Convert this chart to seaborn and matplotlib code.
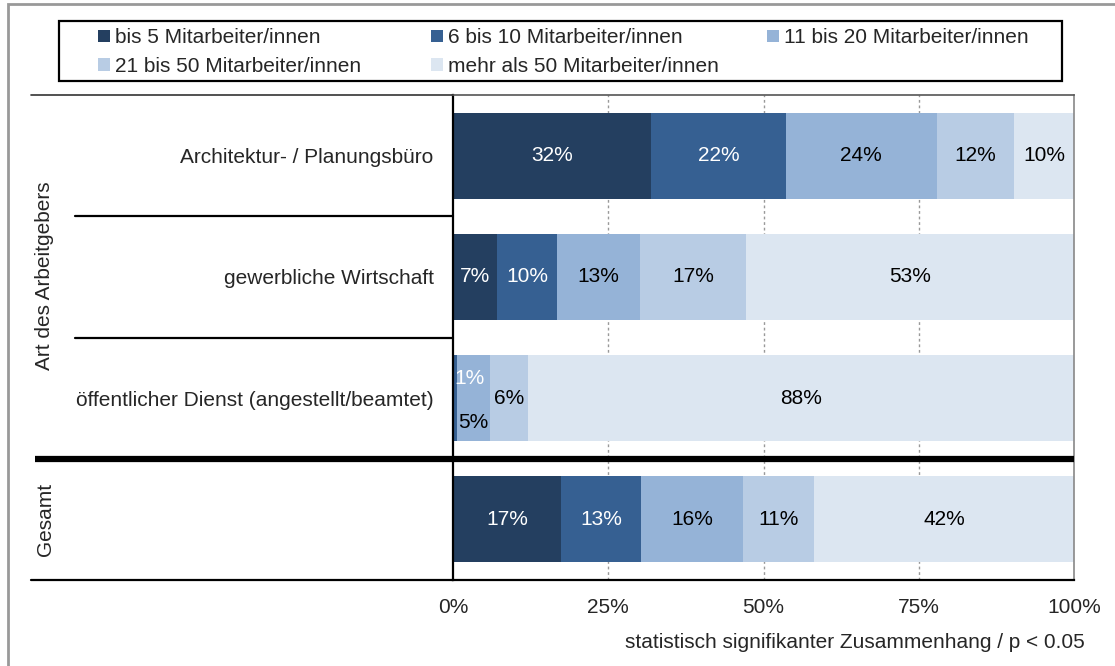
import matplotlib as mpl
import matplotlib.pyplot as plt
from matplotlib.patches import Patch, Rectangle
import seaborn as sns
import pandas as pd

# ---------------- Daten ----------------
arbeitgeber = ["Architektur- / Planungsbüro", "gewerbliche Wirtschaft",
               "öffentlicher Dienst (angestellt/beamtet)", "Gesamt"]
groessen = ["bis 5 Mitarbeiter/innen", "6 bis 10 Mitarbeiter/innen",
            "11 bis 20 Mitarbeiter/innen", "21 bis 50 Mitarbeiter/innen",
            "mehr als 50 Mitarbeiter/innen"]

bis_5 = [31.9, 7.1, 0.0, 17.4]
bis_10 = [21.7, 9.6, 0.6, 12.9]
bis_20 = [24.3, 13.4, 5.4, 16.4]
bis_50 = [12.4, 17.1, 6.1, 11.4]
ueber_50 = [9.7, 52.8, 87.9, 41.9]

farben = ["#243F60", "#366092", "#95B3D7", "#B8CCE4", "#DCE6F1"]
textfarben = ["white", "white", "black", "black", "black"]

# Etiketten, die in der Grafik verschoben sind (Zeile, Serie): (dx, dy)
versatz = {(2, 1): (2.4, -0.16), (2, 2): (0.0, 0.2)}

# ---------------- Tabelle ----------------
werte = [bis_5, bis_10, bis_20, bis_50, ueber_50]
filas = []
for g, serie in zip(groessen, werte):
    for a, v in zip(arbeitgeber, serie):
        filas.append({"arbeitgeber": a, "groesse": g, "wert": v})
df = pd.DataFrame(filas)
df["groesse"] = pd.Categorical(df["groesse"], groessen)
df["arbeitgeber"] = pd.Categorical(df["arbeitgeber"], arbeitgeber)
df = df.sort_values(["arbeitgeber", "groesse"])
df["kum"] = df.groupby("arbeitgeber", observed=True)["wert"].cumsum()
df["links"] = df["kum"] - df["wert"]

# ---------------- Grafik ----------------
sns.set_style("white")
plt.rcParams["font.family"] = ["Liberation Sans", "DejaVu Sans"]
plt.rcParams["font.size"] = 15

fig = plt.figure(figsize=(11.15, 6.66), dpi=100)
W, H = 1115, 666
ax = fig.add_axes([453 / W, 1 - 580 / H, (1074 - 453) / W, (580 - 95) / H])

# gestapelt: von der letzten Kategorie (kumuliert 100%) rückwärts zeichnen
for i in reversed(range(len(groessen))):
    sub = df[df["groesse"] == groessen[i]]
    sns.barplot(data=sub, x="kum", y="arbeitgeber", order=arbeitgeber,
                color=farben[i], saturation=1, errorbar=None, width=0.71,
                orient="h", linewidth=0, ax=ax, zorder=2)

# Datenbeschriftungen
for _, r in df.iterrows():
    if r["wert"] < 0.5:
        continue
    fila = arbeitgeber.index(r["arbeitgeber"])
    serie = groessen.index(r["groesse"])
    dx, dy = versatz.get((fila, serie), (0, 0))
    ax.text(r["links"] + r["wert"] / 2 + dx, fila + dy, f"{r['wert']:.0f}%",
            ha="center", va="center", color=textfarben[serie], fontsize=15, zorder=3)

ax.set_xlim(0, 100)
ax.set_ylim(3.5, -0.5)
ax.set_xlabel("")
ax.set_ylabel("")

ticks = [0, 25, 50, 75, 100]
ax.set_xticks(ticks)
ax.set_xticklabels([f"{t}%" for t in ticks])
ax.tick_params(axis="x", length=5, width=1, color="#888888", pad=8, labelsize=15)
for t in ticks[1:-1]:
    ax.axvline(t, color="#999999", lw=1, ls=(0, (2, 2)), zorder=0.5)

ax.set_yticks(range(len(arbeitgeber)))
ax.set_yticklabels(arbeitgeber[:-1] + [""])
ax.tick_params(axis="y", length=0, pad=14, labelsize=15)

for s in ["left", "bottom"]:
    ax.spines[s].set_color("black")
    ax.spines[s].set_linewidth(1.6)
ax.spines["right"].set_color("#888888")
ax.spines["right"].set_linestyle((0, (1, 1)))
ax.spines["right"].set_linewidth(1.2)
ax.spines["top"].set_color("#555555")
ax.spines["top"].set_linewidth(1.2)

# Linien im Beschriftungsbereich
trans = mpl.transforms.blended_transform_factory(ax.transAxes, ax.transData)
x_aussen = (31 - 453) / (1074 - 453)
x_innen = (75 - 453) / (1074 - 453)
x_dick = (35 - 453) / (1074 - 453)
ax.plot([x_aussen, 0], [-0.5, -0.5], transform=trans, clip_on=False, color="#333333", lw=1.2)
ax.plot([x_aussen, 0], [3.5, 3.5], transform=trans, clip_on=False, color="black", lw=1.6)
for y in [0.5, 1.5]:
    ax.plot([x_innen, 0], [y, y], transform=trans, clip_on=False, color="black", lw=1.6)
ax.plot([x_dick, 1], [2.5, 2.5], transform=trans, clip_on=False, color="black", lw=4.5,
        solid_capstyle="butt", zorder=4)

# Gruppentitel links
fig.text(45 / W, 1 - 276 / H, "Art des Arbeitgebers", rotation=90,
         ha="center", va="center", fontsize=15)
fig.text(45 / W, 1 - 519 / H, "Gesamt", rotation=90,
         ha="center", va="center", fontsize=15)

# Legende: Excel verteilt die Einträge auf gleich breite Spalten (zeilenweise)
griffe = [Patch(facecolor=c, edgecolor="none") for c in farben]
spalten_x = [88, 421, 757]
for k, x0 in enumerate(spalten_x):
    idx = list(range(k, len(groessen), 3))
    fig.legend([griffe[j] for j in idx], [groessen[j] for j in idx],
               loc="upper left", bbox_to_anchor=(x0 / W, 1 - 18 / H), frameon=False,
               borderpad=0, handlelength=0.55, handleheight=0.55, handletextpad=0.25,
               labelspacing=0.45, fontsize=15)
fig.patches.append(Rectangle((59 / W, 1 - 81 / H), (1062 - 59) / W, 60 / H,
                             transform=fig.transFigure, fill=False,
                             edgecolor="black", lw=1.6))

# äußerer Rahmen
fig.patches.append(Rectangle((8 / W, -0.1), 1.2, 1 - 4 / H + 0.1,
                             transform=fig.transFigure, fill=False,
                             edgecolor="#999999", lw=2))

fig.text(1085 / W, 1 - 643 / H, "statistisch signifikanter Zusammenhang / p < 0.05",
         ha="right", va="center", fontsize=15)

plt.savefig("out.png", dpi=100)
